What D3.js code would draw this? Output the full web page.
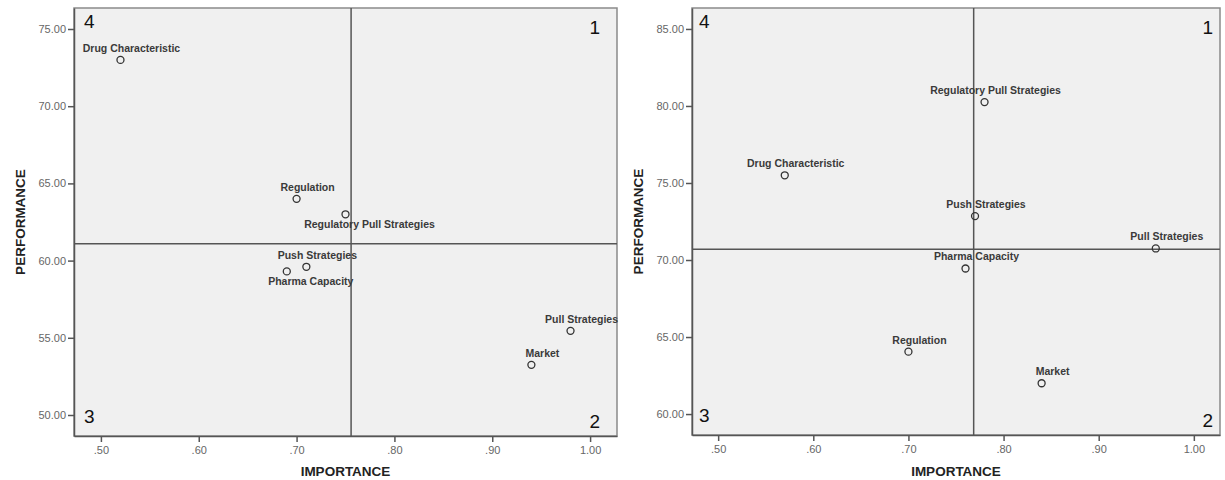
<!DOCTYPE html>
<html>
<head>
<meta charset="utf-8">
<script src="https://cdn.jsdelivr.net/npm/d3@7"></script>
<style>
  body { margin: 0; background: #fff; }
  svg { display: block; font-family: "Liberation Sans", Arial, sans-serif; }
</style>
</head>
<body>
<svg id="chart" width="1225" height="480"></svg>
<script>
// left panel
let namesA = ['Drug Characteristic', 'Regulation', 'Regulatory Pull Strategies', 'Push Strategies',
              'Pharma Capacity', 'Pull Strategies', 'Market'];
let importanceA = [0.52, 0.70, 0.75, 0.71, 0.69, 0.98, 0.94];
let performanceA = [73.0, 64.0, 63.0, 59.6, 59.3, 55.45, 53.25];
let yTicksA = [50, 55, 60, 65, 70, 75];

// right panel
let namesB = ['Drug Characteristic', 'Regulatory Pull Strategies', 'Push Strategies', 'Pull Strategies',
              'Pharma Capacity', 'Regulation', 'Market'];
let importanceB = [0.57, 0.78, 0.77, 0.96, 0.76, 0.70, 0.84];
let performanceB = [75.5, 80.25, 72.85, 70.75, 69.45, 64.05, 62.0];
let yTicksB = [60, 65, 70, 75, 80, 85];

let xTicks = [0.5, 0.6, 0.7, 0.8, 0.9, 1.0];
let quadrants = ['1', '2', '3', '4'];

let svg = d3.select('#chart');

function quadrant_chart(cfg) {
    let x = d3.scaleLinear().domain([0.4725, 1.0275]).range([cfg.left, cfg.right]);
    let y = d3.scaleLinear().domain([cfg.yTicks[0] - 1.36, cfg.yTicks[5] + 1.36]).range([cfg.bottom, cfg.top]);

    let g = svg.append('g');

    // plot background
    g.append('rect')
        .attr('x', cfg.left).attr('y', cfg.top)
        .attr('width', cfg.right - cfg.left).attr('height', cfg.bottom - cfg.top)
        .attr('fill', '#f0f0f0')
        .attr('stroke', '#8a8a8a')
        .attr('stroke-width', 1.5);

    // axes
    let yAxis = d3.axisLeft(y).tickValues(cfg.yTicks).tickSize(6).tickSizeOuter(0)
        .tickPadding(2).tickFormat(d3.format('.2f'));
    let xAxis = d3.axisBottom(x).tickValues(xTicks).tickSize(6).tickSizeOuter(0)
        .tickPadding(4).tickFormat(d => d3.format('.2f')(d).replace(/^0/, ''));

    let ya = g.append('g').attr('transform', 'translate(' + cfg.left + ',0)').call(yAxis);
    let xa = g.append('g').attr('transform', 'translate(0,' + cfg.bottom + ')').call(xAxis);
    [ya, xa].forEach(a => {
        a.select('.domain').attr('stroke', '#555').attr('stroke-width', 1.5);
        a.selectAll('.tick line').attr('stroke', '#555').attr('stroke-width', 1.5);
        a.selectAll('.tick text').attr('fill', '#666').attr('font-size', '11px')
            .attr('font-family', '"Liberation Sans", Arial, sans-serif');
    });

    // mean reference lines
    let mx = d3.mean(cfg.importance);
    let my = d3.mean(cfg.performance);
    g.append('line')
        .attr('x1', x(mx)).attr('x2', x(mx)).attr('y1', cfg.top).attr('y2', cfg.bottom)
        .attr('stroke', '#555').attr('stroke-width', 1.5);
    g.append('line')
        .attr('x1', cfg.left).attr('x2', cfg.right).attr('y1', y(my)).attr('y2', y(my))
        .attr('stroke', '#555').attr('stroke-width', 1.5);

    let pts = cfg.names.map((n, i) => ({ name: n, imp: cfg.importance[i], perf: cfg.performance[i] }));

    // point labels
    g.selectAll('text.lbl')
        .data(pts)
        .join('text')
        .attr('class', 'lbl')
        .attr('x', d => x(d.imp) + (cfg.below.includes(d.name) ? 24 : 11))
        .attr('y', d => y(d.perf) + (cfg.below.includes(d.name) ? 14 : -8))
        .attr('text-anchor', 'middle')
        .attr('font-size', '10.5px')
        .attr('font-weight', 'bold')
        .attr('fill', '#3a3a3a')
        .text(d => d.name);

    // points
    g.selectAll('circle')
        .data(pts)
        .join('circle')
        .attr('cx', d => x(d.imp))
        .attr('cy', d => y(d.perf))
        .attr('r', 3.5)
        .attr('fill', 'none')
        .attr('stroke', '#333')
        .attr('stroke-width', 1.3);

    // quadrant numbers
    let qpos = {
        '1': [cfg.right - cfg.qr, cfg.top + 26, 'end'],
        '2': [cfg.right - cfg.qr, cfg.bottom - 8, 'end'],
        '3': [cfg.left + cfg.ql, cfg.bottom - 13, 'start'],
        '4': [cfg.left + cfg.ql, cfg.top + 20, 'start']
    };
    g.selectAll('text.quad')
        .data(quadrants)
        .join('text')
        .attr('class', 'quad')
        .attr('x', d => qpos[d][0])
        .attr('y', d => qpos[d][1])
        .attr('text-anchor', d => qpos[d][2])
        .attr('font-size', '19px')
        .attr('fill', '#111')
        .text(d => d);

    // axis titles
    g.append('text')
        .attr('transform', 'translate(' + (cfg.left - 49) + ',' + ((cfg.top + cfg.bottom) / 2) + ') rotate(-90)')
        .attr('text-anchor', 'middle')
        .attr('font-size', '13.5px')
        .attr('font-weight', 'bold')
        .attr('fill', '#222')
        .text('PERFORMANCE');

    g.append('text')
        .attr('x', (cfg.left + cfg.right) / 2)
        .attr('y', 476)
        .attr('text-anchor', 'middle')
        .attr('font-size', '13.5px')
        .attr('font-weight', 'bold')
        .attr('fill', '#222')
        .text('IMPORTANCE');
}

quadrant_chart({
    left: 74, right: 617, top: 8, bottom: 436, ql: 10, qr: 17,
    names: namesA, importance: importanceA, performance: performanceA, yTicks: yTicksA,
    below: ['Regulatory Pull Strategies', 'Pharma Capacity']
});

quadrant_chart({
    left: 692, right: 1220, top: 8, bottom: 435, ql: 7, qr: 7,
    names: namesB, importance: importanceB, performance: performanceB, yTicks: yTicksB,
    below: []
});
</script>
</body>
</html>
